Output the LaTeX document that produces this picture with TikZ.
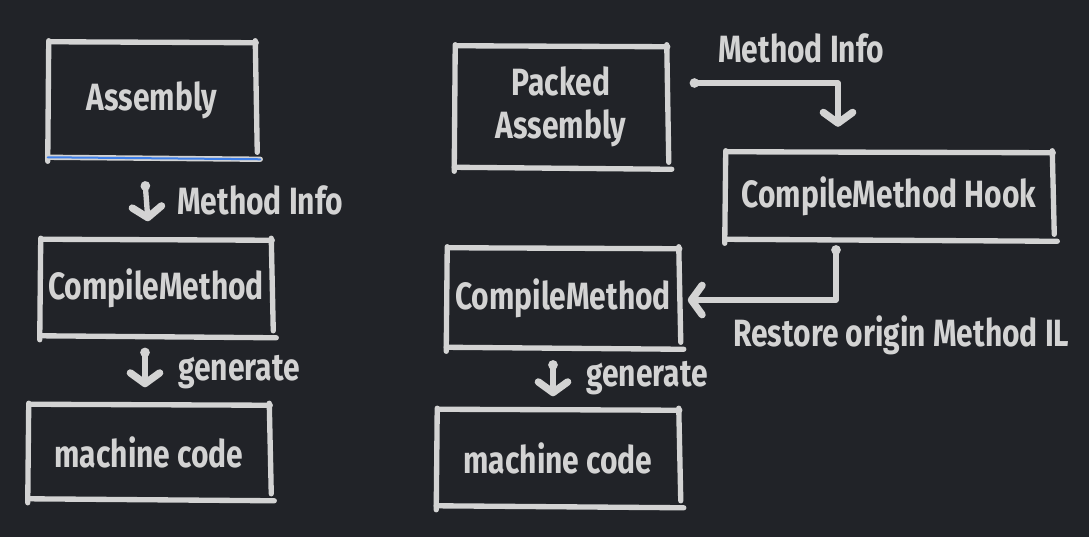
\documentclass[tikz,border=0pt]{standalone}
\usepackage{fontspec}
\setmainfont{Fira Sans}[FakeStretch=0.79]
\usetikzlibrary{arrows.meta,calc}
\definecolor{bg}{HTML}{212328}
\definecolor{ink}{HTML}{D3D3D3}
\definecolor{sel}{HTML}{3F7FE8}
\tikzset{
  stroke/.style={draw=ink, line width=4pt, line cap=round, line join=round},
  boxn/.style={inner sep=0pt, text=ink, font=\bfseries\fontsize{28.5}{32}\selectfont, align=center},
  lbl/.style={inner sep=0pt, text=ink, font=\bfseries\fontsize{28.5}{32}\selectfont, anchor=west},
  arr/.style={stroke, {Circle[length=7pt]}-{Straight Barb[round,length=8pt,width=22pt,line width=1.5pt 1]}},
}
\newcommand\skbox[1]{%
  \draw[stroke] ($(#1.north west)+(2,0)$) -- ($(#1.north east)+(0,1)$);
  \draw[stroke] ($(#1.north east)+(-1,-1)$) -- ($(#1.south east)+(1,-6)$);
  \draw[stroke] ($(#1.south east)+(4,1)$) -- ($(#1.south west)+(0,-1)$);
  \draw[stroke] ($(#1.south west)+(0,3)$) -- ($(#1.north west)+(1,-1)$);
}
\begin{document}
\begin{tikzpicture}[x=0.75pt,y=-0.75pt]
\fill[bg] (0,0) rectangle (1089,537);
\useasboundingbox (0,0) rectangle (1089,537);
% left column
\node[boxn, minimum width={208*0.75pt}, minimum height={116*0.75pt}] (A1) at (152,100) {Assembly};
\node[boxn, minimum width={232*0.75pt}, minimum height={97*0.75pt}] (C1) at (156,288) {CompileMethod};
\node[boxn, minimum width={242*0.75pt}, minimum height={95*0.75pt}] (M1) at (149,452) {machine code};
% right column
\node[boxn, minimum width={213*0.75pt}, minimum height={122*0.75pt}] (P) at (561,107) {Packed\\Assembly};
\node[boxn, minimum width={328*0.75pt}, minimum height={88*0.75pt}] (H) at (889,196) {CompileMethod Hook};
\node[boxn, minimum width={233*0.75pt}, minimum height={100*0.75pt}] (C2) at (563,298) {CompileMethod};
\node[boxn, minimum width={243*0.75pt}, minimum height={97*0.75pt}] (M2) at (558,458) {machine code};
\skbox{A1}\skbox{C1}\skbox{M1}\skbox{P}\skbox{H}\skbox{C2}\skbox{M2}
\draw[sel, line width=1.5pt, line cap=round] ($(A1.south west)+(0,-1)$) -- ($(A1.south east)+(4,1)$);
% connectors
\draw[arr] ($(A1.south)+(-7,23)$) -- ($(C1.north)+(-8,-18)$);
\draw[arr] ($(C1.south)+(-11,11)$) -- ($(M1.north)+(-4,-17)$);
\draw[arr] ($(P.east)+(22,-24)$) -| ($(H.north)+(-51,-25)$);
\draw[arr] ($(H.south)+(-53,5)$) |- ($(C2.east)+(8,2)$);
\draw[arr] ($(C2.south)+(-10,12)$) -- ($(M2.north)+(-5,-13)$);
% labels
\node[lbl] (l1) at (177,200) {Method Info};
\node[lbl] (l2) at (178,372) {generate};
\node[lbl] (l3) at (718,48) {Method Info};
\node[lbl] (l4) at (733,335) {Restore origin Method IL};
\node[lbl] (l5) at (586,378) {generate};
\end{tikzpicture}
\end{document}
